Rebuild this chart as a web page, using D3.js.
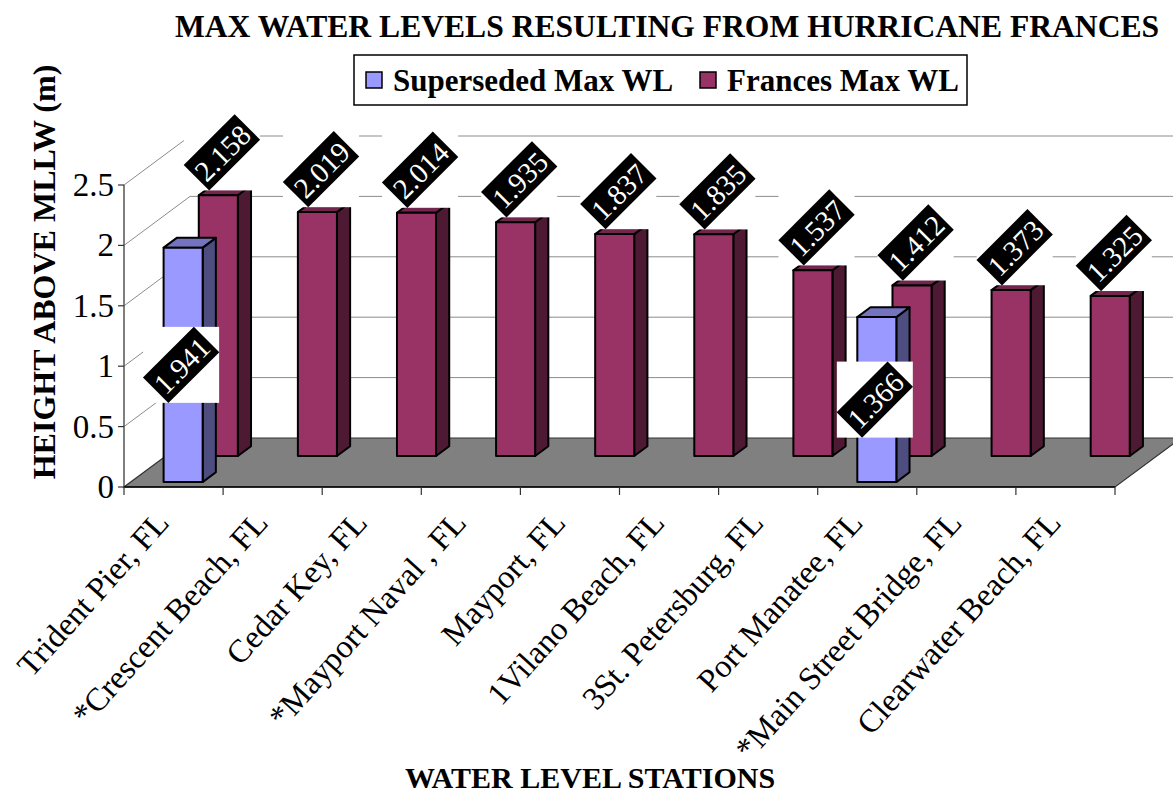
<!DOCTYPE html>
<html>
<head>
<meta charset="utf-8">
<script src="https://cdn.jsdelivr.net/npm/d3@7"></script>
<style>
  body { margin: 0; background: #fff; }
  svg { display: block; }
  text { font-family: "Liberation Serif", "Times New Roman", serif; }
</style>
</head>
<body>
<svg id="chart" width="1173" height="796"></svg>
<script>
// Stations along the category axis
const categories = [
  "Trident Pier, FL", "*Crescent Beach, FL", "Cedar Key, FL", "*Mayport Naval , FL",
  "Mayport, FL", "1Vilano Beach, FL", "3St. Petersburg, FL", "Port Manatee, FL",
  "*Main Street Bridge, FL", "Clearwater Beach, FL"
];
const seriesNames = ["Superseded Max WL", "Frances Max WL"];
// Height above MLLW (m); null where a station has no superseded record
const supersededWL = [1.941, null, null, null, null, null, null, 1.366, null, null];
const francesWL = [2.158, 2.019, 2.014, 1.935, 1.837, 1.835, 1.537, 1.412, 1.373, 1.325];
const yTickValues = [0, 0.5, 1, 1.5, 2, 2.5];

const svg = d3.select("#chart");

// Oblique 3-D frame: origin is the front-left floor corner, depth runs up and right
const ox = 124, oy = 487;
const DX = 66, DY = 49;
const x = d3.scaleBand().domain(categories).range([0, 991]);
const y = d3.scaleLinear().domain([0, 2.5]).range([0, 302]);
const P = (xx, v, z) => [ox + xx + z * DX, oy - y(v) - z * DY];
const pts = arr => arr.map(p => p.join(",")).join(" ");

const step = x.step();
const barOff = step * 0.333, barW = step * 0.394;

const series = [
  { name: seriesNames[0], values: supersededWL, z0: 0.10, z1: 0.30,
    front: "#9999FF", top: "#7373BF", side: "#4D4D80", labelPos: "center" },
  { name: seriesNames[1], values: francesWL, z0: 0.633, z1: 0.833,
    front: "#993366", top: "#73264D", side: "#4D1933", labelPos: "above" }
];

// Walls: gridlines on the side wall and back wall
const W = x.range()[1];
const grid = svg.append("g").attr("stroke", "#8c8c8c").attr("stroke-width", 1);
yTickValues.filter(v => v > 0).forEach(v => {
  const a = P(0, v, 0), b = P(0, v, 1), c = P(W, v, 1);
  grid.append("line").attr("x1", a[0]).attr("y1", a[1]).attr("x2", b[0]).attr("y2", b[1]);
  grid.append("line").attr("x1", b[0]).attr("y1", b[1]).attr("x2", c[0] + 20).attr("y2", c[1]);
});

// Floor
svg.append("polygon")
  .attr("points", pts([P(0, 0, 0), P(W, 0, 0), P(W, 0, 1), P(0, 0, 1)]))
  .attr("fill", "#808080").attr("stroke", "#333").attr("stroke-width", 1.2);

// Value axis
const yAxis = svg.append("g");
yAxis.append("line").attr("x1", ox).attr("x2", ox).attr("y1", oy).attr("y2", oy - y(2.5))
  .attr("stroke", "#555").attr("stroke-width", 1.5);
yTickValues.forEach(v => {
  const yy = oy - y(v);
  yAxis.append("line").attr("x1", ox - 6).attr("x2", ox).attr("y1", yy).attr("y2", yy)
    .attr("stroke", "#333").attr("stroke-width", 1.2);
  yAxis.append("text").attr("x", ox - 10).attr("y", yy).attr("text-anchor", "end")
    .attr("dominant-baseline", "central").attr("font-size", 33).text(d3.format("")(v));
});

// Category axis
const xAxis = svg.append("g");
xAxis.append("line").attr("x1", ox).attr("x2", ox + W).attr("y1", oy).attr("y2", oy)
  .attr("stroke", "#000").attr("stroke-width", 1.5);
d3.range(categories.length + 1).forEach(i => {
  const xx = ox + i * step;
  xAxis.append("line").attr("x1", xx).attr("x2", xx).attr("y1", oy).attr("y2", oy + 8)
    .attr("stroke", "#333").attr("stroke-width", 1.2);
});
categories.forEach(c => {
  const cx = ox + x(c) + step / 2 - 3, cy = 524;
  xAxis.append("text").attr("transform", `translate(${cx},${cy}) rotate(-48)`)
    .attr("text-anchor", "end").attr("font-size", 32.5).text(c);
});

// Bars, back row first
const bars = svg.append("g").attr("stroke", "#000").attr("stroke-width", 2).attr("stroke-linejoin", "round");
series.slice().reverse().forEach(s => {
  s.values.forEach((v, i) => {
    if (v == null) return;
    const x0 = x(categories[i]) + barOff, x1 = x0 + barW;
    const g = bars.append("g");
    g.append("polygon").attr("fill", s.side)
      .attr("points", pts([P(x1, 0, s.z0), P(x1, 0, s.z1), P(x1, v, s.z1), P(x1, v, s.z0)]));
    g.append("polygon").attr("fill", s.top)
      .attr("points", pts([P(x0, v, s.z0), P(x1, v, s.z0), P(x1, v, s.z1), P(x0, v, s.z1)]));
    g.append("polygon").attr("fill", s.front)
      .attr("points", pts([P(x0, 0, s.z0), P(x1, 0, s.z0), P(x1, v, s.z0), P(x0, v, s.z0)]));
  });
});

// Value labels: rotated black tags on a white box
const labels = svg.append("g");
const fmt = d3.format(".3f");
series.forEach(s => {
  s.values.forEach((v, i) => {
    if (v == null) return;
    const x0 = x(categories[i]) + barOff;
    let cx, cy;
    if (s.labelPos === "above") {
      const t = P(x0 + barW / 2, v, (s.z0 + s.z1) / 2);
      cx = t[0] - 3; cy = t[1] - 38;
    } else {
      const t = P(x0 + barW / 2, v / 2, s.z0);
      cx = t[0] - 2; cy = t[1];
    }
    const g = labels.append("g").attr("transform", `translate(${cx},${cy})`);
    g.append("rect").attr("x", -38).attr("y", -38).attr("width", 76).attr("height", 76).attr("fill", "#fff");
    const r = g.append("g").attr("transform", "rotate(-45)");
    r.append("rect").attr("x", -36).attr("y", -18).attr("width", 72).attr("height", 36).attr("fill", "#000");
    r.append("text").attr("text-anchor", "middle").attr("dominant-baseline", "central")
      .attr("y", 1).attr("font-size", 29).attr("fill", "#fff").text(fmt(v));
  });
});

// Titles
svg.append("text").attr("x", 667).attr("y", 37).attr("text-anchor", "middle")
  .attr("font-size", 31.6).attr("font-weight", "bold")
  .text("MAX WATER LEVELS RESULTING FROM HURRICANE FRANCES");
svg.append("text").attr("transform", "translate(55,272) rotate(-90)").attr("text-anchor", "middle")
  .attr("font-size", 32).attr("font-weight", "bold").text("HEIGHT ABOVE MLLW (m)");
svg.append("text").attr("x", 590).attr("y", 788).attr("text-anchor", "middle")
  .attr("font-size", 30).attr("font-weight", "bold").text("WATER LEVEL STATIONS");

// Legend
const legend = svg.append("g");
legend.append("rect").attr("x", 354).attr("y", 55).attr("width", 613).attr("height", 50)
  .attr("fill", "#fff").attr("stroke", "#000").attr("stroke-width", 1.5);
const legendX = [366, 700];
series.forEach((s, k) => {
  legend.append("rect").attr("x", legendX[k]).attr("y", 72).attr("width", 16).attr("height", 16)
    .attr("fill", s.front).attr("stroke", "#000").attr("stroke-width", 1.5);
  legend.append("text").attr("x", legendX[k] + 27).attr("y", 91).attr("font-size", 31)
    .attr("font-weight", "bold").text(s.name);
});
</script>
</body>
</html>
